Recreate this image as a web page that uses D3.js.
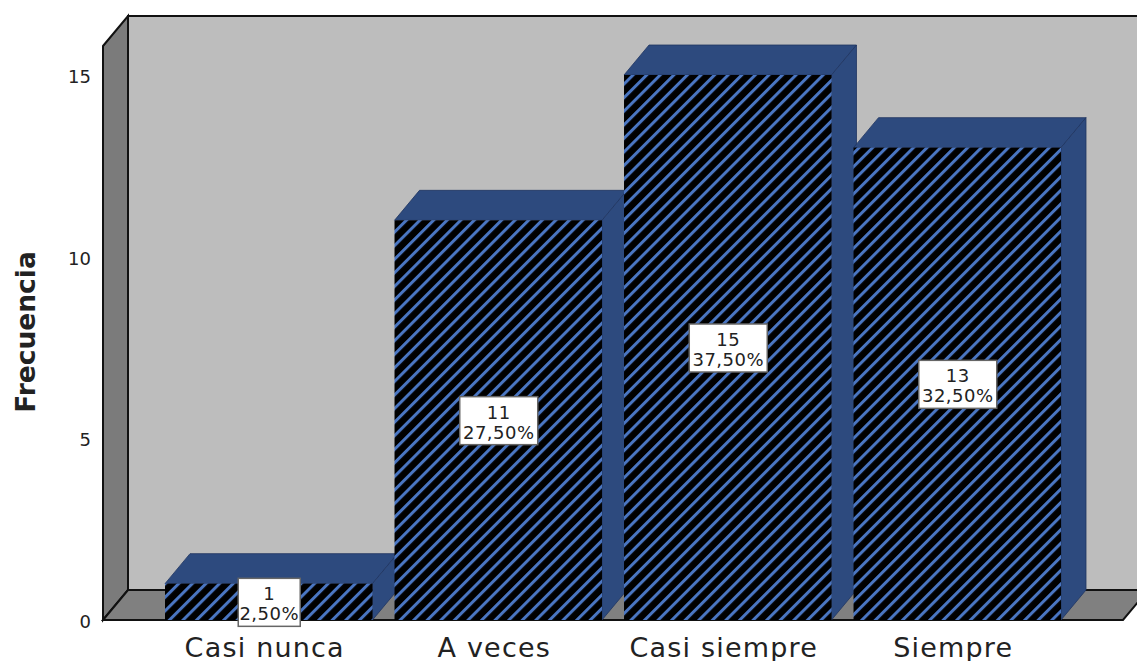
<!DOCTYPE html>
<html>
<head>
<meta charset="utf-8">
<script src="https://cdn.jsdelivr.net/npm/d3@7/dist/d3.min.js"></script>
<style>
html,body{margin:0;padding:0;background:#fff;overflow:hidden}
text{font-family:"DejaVu Sans",sans-serif;fill:#222}
</style>
</head>
<body>
<svg id="chart" width="1137" height="661"></svg>
<script>
const categories = ["Casi nunca", "A veces", "Casi siempre", "Siempre"];
const frequencies = [1, 11, 15, 13];
const percentLabels = ["2,50%", "27,50%", "37,50%", "32,50%"];
const yTicks = [0, 5, 10, 15];

const svg = d3.select("#chart");
const depthX = 25, depthY = 30;          // oblique offset of the 3D box
const left = 103, right = 1123, base = 620;

const y = d3.scaleLinear().domain([0, 15]).range([base, 75]);
const x = d3.scaleBand().domain(categories).range([165, 1061]).paddingInner(0.096).paddingOuter(0);
const top15 = 46;

const poly = pts => pts.map(p => p.join(",")).join(" ");
const stroke = {stroke: "#111", width: 2};

// Back wall, side wall and floor of the chart box
svg.append("polygon").attr("points", poly([[left + depthX, top15 - depthY], [right + depthX, top15 - depthY], [right + depthX, base - depthY], [left + depthX, base - depthY]]))
  .attr("fill", "#bdbdbd").attr("stroke", stroke.stroke).attr("stroke-width", stroke.width);
svg.append("polygon").attr("points", poly([[left, top15], [left + depthX, top15 - depthY], [left + depthX, base - depthY], [left, base]]))
  .attr("fill", "#7b7b7b").attr("stroke", stroke.stroke).attr("stroke-width", stroke.width);
svg.append("polygon").attr("points", poly([[left, base], [left + depthX, base - depthY], [right + depthX, base - depthY], [right, base]]))
  .attr("fill", "#808080").attr("stroke", stroke.stroke).attr("stroke-width", stroke.width);

// Diagonal hatch for the front of each bar
const hatch = svg.append("defs").append("pattern")
  .attr("id", "hatch").attr("patternUnits", "userSpaceOnUse")
  .attr("width", 9.6).attr("height", 9.6)
  .attr("patternTransform", "rotate(45)");
hatch.append("rect").attr("width", 9.6).attr("height", 9.6).attr("fill", "#000");
hatch.append("rect").attr("width", 3).attr("height", 9.6).attr("fill", "#4a76c2");

// Bars, left to right so each front face covers its neighbour's side
const faceLine = "#1f3561";
const bars = svg.selectAll("g.bar").data(categories).join("g").attr("class", "bar");
bars.append("polygon").attr("fill", "#2d4a7e").attr("stroke", faceLine).attr("stroke-width", 0.8)
  .attr("points", (c, i) => {
    const x0 = x(c), x1 = x0 + x.bandwidth(), t = y(frequencies[i]);
    return poly([[x0, t], [x0 + depthX, t - depthY], [x1 + depthX, t - depthY], [x1, t]]);
  });
bars.append("polygon").attr("fill", "#2d4a7e").attr("stroke", faceLine).attr("stroke-width", 0.8)
  .attr("points", (c, i) => {
    const x1 = x(c) + x.bandwidth(), t = y(frequencies[i]);
    return poly([[x1, t], [x1 + depthX, t - depthY], [x1 + depthX, base - depthY], [x1, base]]);
  });
bars.append("rect").attr("fill", "url(#hatch)")
  .attr("x", c => x(c)).attr("width", x.bandwidth())
  .attr("y", (c, i) => y(frequencies[i]))
  .attr("height", (c, i) => base - y(frequencies[i]));

// Value labels in white boxes, centred on each bar's front face
const labelW = [62, 78, 78, 78], labelH = 48;
const labels = svg.selectAll("g.value").data(categories).join("g").attr("class", "value")
  .attr("transform", (c, i) => `translate(${x(c) + x.bandwidth() / 2 + 0.5},${(base + y(frequencies[i])) / 2 + 0.5})`);
labels.append("rect")
  .attr("x", (c, i) => -labelW[i] / 2).attr("y", -labelH / 2)
  .attr("width", (c, i) => labelW[i]).attr("height", labelH)
  .attr("fill", "#fff").attr("stroke", "#666").attr("stroke-width", 1.5);
labels.append("text").attr("text-anchor", "middle").attr("y", -2).attr("font-size", 18)
  .attr("letter-spacing", 0.5).text((c, i) => frequencies[i]);
labels.append("text").attr("text-anchor", "middle").attr("y", 18).attr("font-size", 18)
  .attr("letter-spacing", 0.5).text((c, i) => percentLabels[i]);

// Value axis tick labels
svg.selectAll("text.tick").data(yTicks).join("text").attr("class", "tick")
  .attr("x", 91).attr("y", d => y(d) + 8).attr("text-anchor", "end").attr("font-size", 18)
  .text(d => d);

// Category labels under the bars
svg.selectAll("text.cat").data(categories).join("text").attr("class", "cat")
  .attr("x", c => x(c) + x.bandwidth() / 2 - 4).attr("y", 657)
  .attr("text-anchor", "middle").attr("font-size", 27).attr("letter-spacing", 1.2)
  .text(c => c);

// Axis title
svg.append("text").attr("transform", "translate(35,332) rotate(-90)")
  .attr("text-anchor", "middle").attr("font-size", 26.5).attr("font-weight", "bold")
  .text("Frecuencia");
</script>
</body>
</html>
